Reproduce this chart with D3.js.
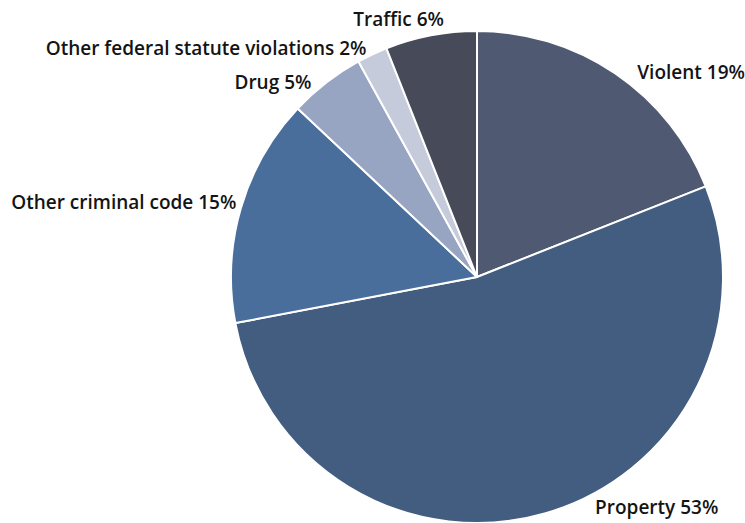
<!DOCTYPE html>
<html>
<head>
<meta charset="utf-8">
<script src="https://cdn.jsdelivr.net/npm/d3@7"></script>
<style>
  html, body { margin: 0; padding: 0; background: #fff; }
  svg text { font-family: "Open Sans", "DejaVu Sans", sans-serif; font-weight: 600; font-size: 19px; fill: #141414; }
</style>
</head>
<body>
<svg id="chart" width="745" height="523"></svg>
<script>
// Offence categories and their share of the total (percent)
const categories = ["Violent", "Property", "Other criminal code", "Drug", "Other federal statute violations", "Traffic"];
const shares = [19, 53, 15, 5, 2, 6];
const colors = ["#4f5a72", "#435d80", "#4a6e9c", "#97a5c3", "#c6cbdc", "#474a58"];

// Label placement: small offsets from the label arc
const labelNudge = [[13, 19], [45, -15], [11, 5], [-5, 19], [1, 15], [16, 6]];

const width = 745, height = 523;
const cx = 477, cy = 277, radius = 246, labelRadius = 262;

const svg = d3.select("#chart");
const g = svg.append("g").attr("transform", `translate(${cx},${cy})`);

const pie = d3.pie().value(d => d.value).sort(null);
const arc = d3.arc().innerRadius(0).outerRadius(radius);
const labelArc = d3.arc().innerRadius(labelRadius).outerRadius(labelRadius);

const data = categories.map((c, i) => ({ name: c, value: shares[i], color: colors[i], nudge: labelNudge[i] }));
const arcs = pie(data);

g.selectAll("path.slice")
  .data(arcs)
  .join("path")
  .attr("class", "slice")
  .attr("d", arc)
  .attr("fill", d => d.data.color)
  .attr("stroke", "#fff")
  .attr("stroke-width", 2)
  .attr("stroke-linejoin", "round");

g.selectAll("text.label")
  .data(arcs)
  .join("text")
  .attr("class", "label")
  .attr("x", d => labelArc.centroid(d)[0] + d.data.nudge[0])
  .attr("y", d => labelArc.centroid(d)[1] + d.data.nudge[1])
  .attr("text-anchor", d => ((d.startAngle + d.endAngle) / 2 < Math.PI ? "start" : "end"))
  .text(d => `${d.data.name} ${d.data.value}%`);
</script>
</body>
</html>
